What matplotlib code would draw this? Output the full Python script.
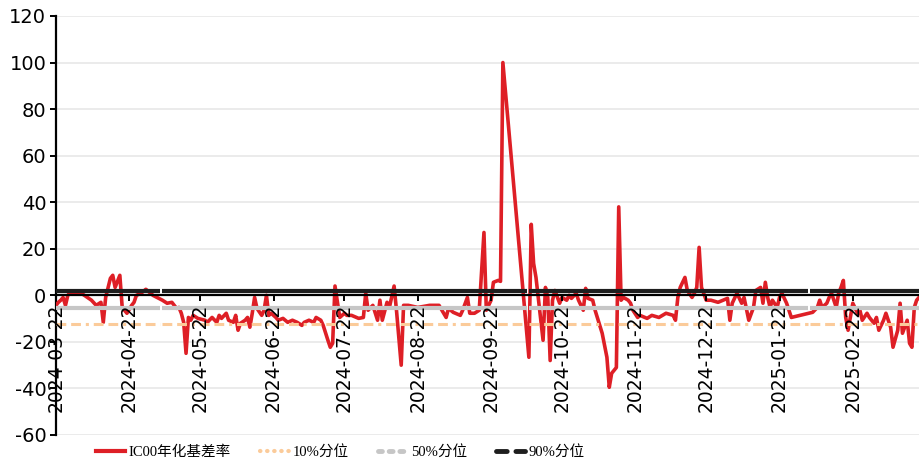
import numpy as np
import pandas as pd
import matplotlib
matplotlib.use("Agg")
import matplotlib.pyplot as plt
import matplotlib.dates as mdates
from matplotlib.lines import Line2D
from matplotlib.font_manager import FontProperties

plt.rcParams["axes.unicode_minus"] = False

# IC00 annualised basis rate (%)
dates = [
    "2024-03-22", "2024-03-23", "2024-03-24", "2024-03-25", "2024-03-26", "2024-03-27", "2024-03-28",
    "2024-04-01", "2024-04-03", "2024-04-06", "2024-04-08", "2024-04-10", "2024-04-11", "2024-04-12",
    "2024-04-14", "2024-04-15", "2024-04-16", "2024-04-18", "2024-04-19", "2024-04-21", "2024-04-23",
    "2024-04-24", "2024-04-25", "2024-04-27", "2024-04-29", "2024-05-02", "2024-05-06", "2024-05-08",
    "2024-05-10", "2024-05-12", "2024-05-13", "2024-05-14", "2024-05-15", "2024-05-16", "2024-05-17",
    "2024-05-18", "2024-05-19", "2024-05-21", "2024-05-24", "2024-05-25", "2024-05-27", "2024-05-29",
    "2024-05-30", "2024-05-31", "2024-06-02", "2024-06-03", "2024-06-05", "2024-06-06", "2024-06-07",
    "2024-06-08", "2024-06-10", "2024-06-11", "2024-06-12", "2024-06-13", "2024-06-14", "2024-06-15",
    "2024-06-17", "2024-06-18", "2024-06-19", "2024-06-20", "2024-06-21", "2024-06-23", "2024-06-24",
    "2024-06-26", "2024-06-28", "2024-06-30", "2024-07-02", "2024-07-04", "2024-07-05", "2024-07-07",
    "2024-07-09", "2024-07-10", "2024-07-12", "2024-07-13", "2024-07-15", "2024-07-16", "2024-07-17",
    "2024-07-18", "2024-07-20", "2024-07-22", "2024-07-23", "2024-07-25", "2024-07-28", "2024-07-30",
    "2024-07-31", "2024-08-01", "2024-08-03", "2024-08-05", "2024-08-06", "2024-08-07", "2024-08-09",
    "2024-08-10", "2024-08-12", "2024-08-13", "2024-08-15", "2024-08-16", "2024-08-18", "2024-08-22",
    "2024-08-27", "2024-08-31", "2024-09-03", "2024-09-04", "2024-09-06", "2024-09-09", "2024-09-10",
    "2024-09-12", "2024-09-13", "2024-09-15", "2024-09-17", "2024-09-19", "2024-09-20", "2024-09-22",
    "2024-09-23", "2024-09-25", "2024-09-26", "2024-09-27", "2024-10-08", "2024-10-09", "2024-10-10",
    "2024-10-11", "2024-10-14", "2024-10-15", "2024-10-16", "2024-10-17", "2024-10-18", "2024-10-19",
    "2024-10-21", "2024-10-22", "2024-10-24", "2024-10-25", "2024-10-26", "2024-10-28", "2024-10-29",
    "2024-10-31", "2024-11-01", "2024-11-02", "2024-11-04", "2024-11-05", "2024-11-08", "2024-11-10",
    "2024-11-11", "2024-11-12", "2024-11-14", "2024-11-15", "2024-11-16", "2024-11-17", "2024-11-19",
    "2024-11-20", "2024-11-21", "2024-11-23", "2024-11-24", "2024-11-27", "2024-11-29", "2024-12-02",
    "2024-12-05", "2024-12-08", "2024-12-09", "2024-12-10", "2024-12-11", "2024-12-13", "2024-12-14",
    "2024-12-16", "2024-12-17", "2024-12-18", "2024-12-19", "2024-12-20", "2024-12-22", "2024-12-24",
    "2024-12-27", "2024-12-31", "2025-01-01", "2025-01-02", "2025-01-04", "2025-01-06", "2025-01-07",
    "2025-01-09", "2025-01-11", "2025-01-12", "2025-01-14", "2025-01-15", "2025-01-16", "2025-01-17",
    "2025-01-18", "2025-01-19", "2025-01-21", "2025-01-22", "2025-01-23", "2025-01-25", "2025-01-27",
    "2025-02-05", "2025-02-07", "2025-02-08", "2025-02-09", "2025-02-11", "2025-02-12", "2025-02-13",
    "2025-02-15", "2025-02-16", "2025-02-17", "2025-02-18", "2025-02-19", "2025-02-20", "2025-02-22",
    "2025-02-24", "2025-02-25", "2025-02-26", "2025-02-28", "2025-03-01", "2025-03-03", "2025-03-04",
    "2025-03-05", "2025-03-07", "2025-03-08", "2025-03-10", "2025-03-11", "2025-03-13", "2025-03-14",
    "2025-03-15", "2025-03-17", "2025-03-18", "2025-03-19", "2025-03-20", "2025-03-21", "2025-03-22",
]
basis = [
    -4.3, -3.0, -2.1, -0.9, -4.3, 0.0, 1.3,
    1.3, 0.0, -2.1, -4.3, -3.0, -11.6, -0.9,
    7.3, 8.6, 3.4, 8.6, -5.2, -7.7, -4.3,
    -3.0, 0.0, 0.9, 2.6, 0.0, -2.1, -3.4,
    -3.0, -5.6, -5.2, -7.7, -11.6, -24.9, -9.5,
    -10.7, -8.6, -9.9, -10.7, -11.6, -9.5, -11.6,
    -8.6, -9.9, -7.7, -10.7, -11.6, -8.6, -15.0,
    -12.0, -10.7, -9.5, -13.7, -7.7, -0.9, -5.6,
    -8.6, -6.4, 0.0, -8.6, -7.7, -9.5, -10.7,
    -9.9, -11.6, -10.7, -11.6, -12.9, -11.6, -10.7,
    -11.6, -9.5, -10.7, -12.9, -19.3, -22.3, -20.6,
    4.0, -9.5, -7.7, -8.6, -8.6, -9.9, -9.5,
    0.9, -6.4, -4.3, -10.7, -2.1, -10.7, -3.0,
    -5.2, 4.0, -6.4, -30.0, -4.3, -4.3, -5.2,
    -4.3, -4.3, -9.5, -5.6, -7.3, -8.6, -6.4,
    -0.9, -7.7, -7.7, -6.4, 27.0, -6.4, -2.1,
    5.6, 6.4, 6.0, 100.0, -26.6, 30.5, 13.7,
    7.7, -19.3, 3.4, -0.9, -28.0, -2.1, 2.1,
    -3.4, -0.9, -2.1, 0.0, -1.3, 0.9, -2.1,
    -6.4, 3.0, -1.3, -2.1, -6.4, -16.3, -26.6,
    -39.5, -33.5, -31.0, 38.0, -2.1, -0.9, -2.1,
    -3.4, -6.4, -9.5, -8.6, -9.9, -8.6, -9.5,
    -7.7, -8.6, -10.7, -0.9, 3.4, 7.7, 2.1,
    -0.9, 0.9, 3.4, 20.6, 3.4, -2.1, -2.1,
    -3.0, -1.3, -10.7, -3.4, 0.9, -3.4, -0.9,
    -10.7, -5.2, 2.1, 3.4, -3.4, 5.6, -0.9,
    -5.2, -2.1, -5.2, -0.9, 0.9, -3.4, -9.5,
    -7.3, -5.2, -2.1, -5.2, -3.4, -0.9, 0.9,
    -5.2, 0.9, 3.4, 6.4, -9.5, -15.0, -3.4,
    -7.7, -6.4, -10.7, -7.7, -9.5, -12.0, -9.5,
    -15.0, -10.7, -7.7, -13.7, -22.3, -15.0, -3.4,
    -16.3, -10.7, -20.6, -22.3, -5.2, -2.1, -0.9,
]

# percentile levels and the stretches where they are drawn (gaps at holidays)
p10 = -12.5
p50 = -5.6
p90 = 1.8
seg_start = ["2024-03-22", "2024-05-06", "2024-10-08", "2025-02-04"]
seg_end = ["2024-05-05", "2024-10-07", "2025-02-03", "2025-03-22"]

tick_dates = ["2024-03-22", "2024-04-22", "2024-05-22", "2024-06-22", "2024-07-22", "2024-08-22",
              "2024-09-22", "2024-10-22", "2024-11-22", "2024-12-22", "2025-01-22", "2025-02-22"]

red = "#DE1F26"
orange = "#FBCB9A"
grey = "#C6C6C6"
black = "#1E1E1E"

x = pd.to_datetime(dates)

fig = plt.figure(figsize=(9.2, 4.65), dpi=100)
ax = fig.add_axes([56 / 920, 1 - 435 / 465, 1 - 56 / 920, (435 - 16) / 465])

ax.plot(x, basis, color=red, lw=2.6, zorder=3, solid_joinstyle="round")
for s, e in zip(seg_start, seg_end):
    xs = pd.to_datetime([s, e])
    ax.plot(xs, [p10, p10], color=orange, lw=2.2, dashes=(3.2, 1.6, 3.2, 1.6, 1, 1.6),
            dash_capstyle="butt", zorder=4)
    ax.plot(xs, [p50, p50], color=grey, lw=3, solid_capstyle="butt", zorder=5)
    ax.plot(xs, [p90, p90], color=black, lw=3, solid_capstyle="butt", zorder=6)

ax.set_ylim(-60, 120)
ax.set_yticks(np.arange(-60, 121, 20))
ax.set_xlim(pd.Timestamp("2024-03-22"), pd.Timestamp("2025-03-22 10:00"))
ax.set_xticks(pd.to_datetime(tick_dates))
ax.xaxis.set_major_formatter(mdates.DateFormatter("%Y-%m-%d"))
ax.grid(axis="y", color="#EBEBEB", lw=1.4, zorder=0)
ax.set_axisbelow(True)

for side in ["top", "right"]:
    ax.spines[side].set_visible(False)
ax.spines["left"].set_linewidth(1.6)
ax.spines["bottom"].set_position(("data", 0))
ax.spines["bottom"].set_linewidth(1.6)
ax.spines["bottom"].set_zorder(6)

ax.tick_params(axis="y", labelsize=14, length=4, width=1.4, pad=3)
ax.tick_params(axis="x", labelsize=13.5, length=4, width=1.4, pad=2, labelrotation=90)
ax.xaxis.set_zorder(7)

handles = [
    Line2D([], [], color=red, lw=3),
    Line2D([], [], color=orange, lw=3, linestyle=(0, (0.1, 1.6)), dash_capstyle="round"),
    Line2D([], [], color=grey, lw=3.5, linestyle=(0, (0.8, 1.4)), dash_capstyle="round"),
    Line2D([], [], color=black, lw=3.5, linestyle=(0, (2.2, 1.8)), dash_capstyle="round"),
]
labels = ["IC00年化基差率", "10%分位", "50%分位", "90%分位"]
fig.legend(handles, labels, loc="center left", bbox_to_anchor=(84 / 920, 1 - 452 / 465),
           ncol=4, frameon=False, handlelength=2.0, handletextpad=0.25, columnspacing=2.0,
           borderpad=0.3, prop=FontProperties(family=["Liberation Serif", "Noto Sans CJK SC"], size=10.5))

fig.savefig("out.png", dpi=100)
